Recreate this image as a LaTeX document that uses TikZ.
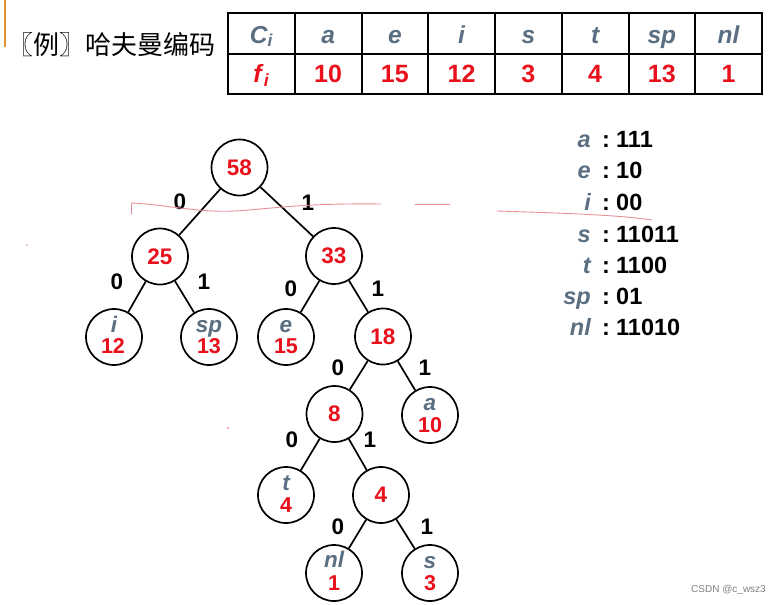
\documentclass[tikz,border=0pt]{standalone}
\usepackage{fontspec}
\setmainfont{Liberation Sans}
\newfontfamily\cjk{Noto Sans CJK SC}
\definecolor{lblue}{HTML}{5B6F82}
\definecolor{nred}{HTML}{E8101A}
\definecolor{hand}{HTML}{E8909A}
\definecolor{obar}{HTML}{E0902E}
\begin{document}
\begin{tikzpicture}[x=1pt,y=-1pt,
  tn/.style={circle, draw, line width=1.7pt, minimum size=56pt, inner sep=0pt, text=nred, font=\fontsize{22.5}{22.5}\selectfont\bfseries},
  edge/.style={line width=1.7pt},
  bit/.style={inner sep=0pt, font=\fontsize{22.5}{22.5}\selectfont\bfseries},
  ltr/.style={anchor=base, inner sep=0pt, text=lblue, font=\fontsize{22.5}{22.5}\selectfont\bfseries\itshape},
  num/.style={anchor=base, inner sep=0pt, text=nred, font=\fontsize{21.5}{21.5}\selectfont\bfseries},
  cell/.style={draw, line width=2pt, minimum width=66.75pt, minimum height=40.5pt, inner sep=0pt},
  hd/.style={cell, text=lblue, text height=22pt, text depth=2.5pt, font=\fontsize{24.5}{24.5}\selectfont\bfseries\itshape},
  fr/.style={cell, text=nred, text height=20pt, text depth=3.5pt, font=\fontsize{25}{25}\selectfont\bfseries},
  code/.style={inner sep=0pt, anchor=base west, font=\fontsize{23.5}{23.5}\selectfont\bfseries},
  cl/.style={inner sep=0pt, anchor=base, font=\fontsize{23.5}{23.5}\selectfont\bfseries},
  cletter/.style={inner sep=0pt, anchor=base east, text=lblue, font=\fontsize{23.5}{23.5}\selectfont\bfseries\itshape},
  handline/.style={hand, line width=0.9pt, line cap=round}
]
\useasboundingbox (0,0) rectangle (777,605);
\fill[white] (0,0) rectangle (777,605);

% orange bar and title
\draw[obar, line width=2pt] (5,0) -- (5,47);
\node[anchor=west, inner sep=0pt, font=\cjk\fontsize{26}{26}\selectfont] (title) at (7,45) {〖例〗哈夫曼编码};

% table
\foreach \t [count=\k from 0] in {{C\textsubscript{\textit{i}}},a,e,i,s,t,sp,nl}
  \node[hd] (h\k) at ({228+66.75*(\k+0.5)},33.25) {\t};
\foreach \t [count=\k from 0] in {{\textit{f}\textsubscript{\textit{i}}},10,15,12,3,4,13,1}
  \node[fr] (f\k) at ({228+66.75*(\k+0.5)},73.75) {\t};

% tree nodes
\node[tn] (n58) at (239.5,167.5) {58};
\node[tn] (n25) at (160,256.5) {25};
\node[tn] (n33) at (334,256) {33};
\node[tn] (ni) at (114,337) {};
\node[tn] (nsp) at (209,337) {};
\node[tn] (ne) at (286,337) {};
\node[tn] (n18) at (383,336.5) {18};
\node[tn] (n8) at (334.5,414) {8};
\node[tn] (na) at (430,415) {};
\node[tn] (nt) at (286,495) {};
\node[tn] (n4) at (381,495) {4};
\node[tn] (nnl) at (334,573) {};
\node[tn] (ns) at (430,573) {};

% leaf labels
\node[ltr] (li) at (114,332) {i};   \node[num] (vi) at (113,353) {12};
\node[ltr] (lsp) at (209,332) {sp}; \node[num] (vsp) at (209,353) {13};
\node[ltr] (le) at (286,332) {e};   \node[num] (ve) at (286,353) {15};
\node[ltr] (la) at (430,410) {a};   \node[num] (va) at (430,432) {10};
\node[ltr] (lt) at (286,490) {t};   \node[num] (vt) at (286,512) {4};
\node[ltr] (lnl) at (334,567) {nl}; \node[num] (vnl) at (334,590) {1};
\node[ltr] (ls) at (430,568) {s};   \node[num] (vs) at (430,590) {3};

% edges
\draw[edge] (n58) -- (n25);
\draw[edge] (n58) -- (n33);
\draw[edge] (n25) -- (ni);
\draw[edge] (n25) -- (nsp);
\draw[edge] (n33) -- (ne);
\draw[edge] (n33) -- (n18);
\draw[edge] (n18) -- (n8);
\draw[edge] (n18) -- (na);
\draw[edge] (n8) -- (nt);
\draw[edge] (n8) -- (n4);
\draw[edge] (n4) -- (nnl);
\draw[edge] (n4) -- (ns);

% edge bits
\node[bit] (b1) at (180,202) {0};
\node[bit] (b2) at (308,203) {1};
\node[bit] (b3) at (117,282) {0};
\node[bit] (b4) at (204,282) {1};
\node[bit] (b5) at (291,289) {0};
\node[bit] (b6) at (378,289) {1};
\node[bit] (b7) at (338,368) {0};
\node[bit] (b8) at (425,368) {1};
\node[bit] (b9) at (292,440) {0};
\node[bit] (b10) at (370,440) {1};
\node[bit] (b11) at (338,527) {0};
\node[bit] (b12) at (427,527) {1};

% code list
\foreach \l/\c/\y in {a/111/147, e/10/178, i/00/210, s/11011/242, t/1100/273, sp/01/304, nl/11010/335} {
  \node[cletter] (cl\l) at (591,\y) {\l};
  \node[cl] (cc\l) at (606,\y) {:};
  \node[code] (cv\l) at (616,\y) {\c};
}

% hand-drawn red marks
\draw[handline] (131.5,214) -- (131.5,203) .. controls (160,204) and (200,213) .. (235,211)
  .. controls (270,209) and (300,203) .. (381,204);
\draw[handline] (415,204.5) -- (450,204.5);
\draw[handline] (497,211) .. controls (560,213) and (620,215) .. (652,220);
\fill[hand] (228,428) circle (1.1);
\fill[hand] (27,245) circle (0.8);

% watermark
\node[anchor=east, inner sep=0pt, text=gray, font=\fontsize{10}{10}\selectfont] (wm) at (766,590) {CSDN @c\_wsz3};
\end{tikzpicture}
\end{document}
